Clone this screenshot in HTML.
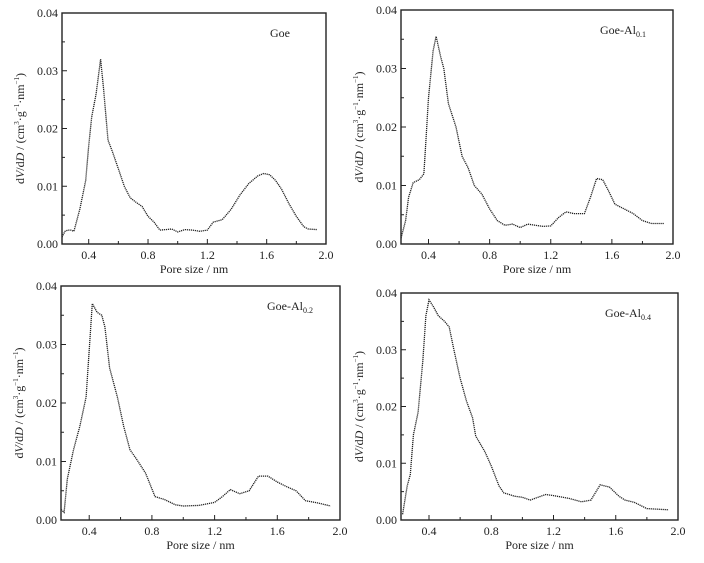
<!DOCTYPE html>
<html><head><meta charset="utf-8"><style>
body{margin:0;background:#fff;width:704px;height:558px;overflow:hidden}
svg text{font-family:"Liberation Serif","DejaVu Serif","Times New Roman",serif;fill:#222}
</style></head><body>
<svg id="fig" width="704" height="558" viewBox="0 0 704 558" font-family="'Liberation Serif', 'DejaVu Serif', serif"></svg>
<script>
const xTicks=[0.4,0.8,1.2,1.6,2.0];
const yTicks=[0,0.01,0.02,0.03,0.04];
const panelLabels=["Goe","Goe-Al","Goe-Al","Goe-Al"];
const panelSubs=["","0.1","0.2","0.4"];
const goeX=[0.22,0.24,0.26,0.28,0.30,0.34,0.38,0.40,0.42,0.45,0.48,0.50,0.53,0.56,0.60,0.64,0.68,0.72,0.76,0.80,0.84,0.88,0.92,0.96,1.0,1.05,1.1,1.15,1.2,1.24,1.3,1.36,1.42,1.48,1.54,1.58,1.62,1.66,1.70,1.75,1.80,1.85,1.88,1.94];
const goeY=[0.0012,0.0022,0.0024,0.0024,0.0022,0.006,0.011,0.017,0.022,0.026,0.032,0.027,0.018,0.016,0.013,0.010,0.008,0.0072,0.0065,0.0048,0.0038,0.0024,0.0025,0.0026,0.0021,0.0025,0.0024,0.0022,0.0024,0.0038,0.0042,0.006,0.0085,0.0105,0.0118,0.0122,0.0120,0.011,0.0095,0.007,0.0048,0.003,0.0026,0.0025];
const al1X=[0.22,0.25,0.27,0.30,0.34,0.37,0.40,0.43,0.45,0.48,0.50,0.53,0.58,0.62,0.66,0.70,0.75,0.80,0.85,0.90,0.95,1.0,1.05,1.1,1.15,1.2,1.25,1.3,1.35,1.42,1.46,1.5,1.54,1.58,1.62,1.68,1.74,1.8,1.86,1.94];
const al1Y=[0.001,0.004,0.008,0.0105,0.011,0.012,0.025,0.033,0.0355,0.032,0.030,0.024,0.020,0.015,0.013,0.010,0.0085,0.006,0.004,0.0032,0.0034,0.0028,0.0034,0.0032,0.003,0.0031,0.0045,0.0055,0.0052,0.0052,0.008,0.0112,0.011,0.009,0.0068,0.006,0.0052,0.004,0.0035,0.0035];
const al2X=[0.22,0.24,0.26,0.30,0.34,0.38,0.42,0.45,0.48,0.50,0.53,0.58,0.62,0.66,0.70,0.76,0.82,0.88,0.95,1.0,1.1,1.2,1.25,1.3,1.36,1.42,1.48,1.54,1.60,1.66,1.72,1.78,1.86,1.94];
const al2Y=[0.0018,0.0013,0.007,0.012,0.016,0.021,0.037,0.0355,0.035,0.033,0.026,0.021,0.016,0.012,0.0105,0.008,0.004,0.0035,0.0026,0.0024,0.0025,0.003,0.004,0.0052,0.0045,0.005,0.0075,0.0075,0.0065,0.0057,0.005,0.0033,0.0029,0.0024];
const al4X=[0.23,0.26,0.28,0.30,0.33,0.36,0.38,0.40,0.43,0.46,0.50,0.53,0.56,0.60,0.64,0.68,0.70,0.76,0.80,0.85,0.88,0.95,1.0,1.05,1.1,1.15,1.2,1.3,1.38,1.44,1.5,1.56,1.62,1.66,1.72,1.8,1.94];
const al4Y=[0.001,0.006,0.008,0.015,0.019,0.028,0.036,0.0388,0.0375,0.036,0.035,0.034,0.03,0.025,0.021,0.018,0.0148,0.012,0.0095,0.006,0.0048,0.0042,0.004,0.0035,0.004,0.0045,0.0043,0.0038,0.0032,0.0035,0.0062,0.0058,0.0042,0.0035,0.0031,0.002,0.0018];
const seriesX=[goeX,al1X,al2X,al4X];
const seriesY=[goeY,al1Y,al2Y,al4Y];
const boxes=[[62,13,326,244],[401,10,673,244],[61,286,340,520],[401,293,678,520]];
const NS="http://www.w3.org/2000/svg";
const svg=document.getElementById('fig');
const FF="'Liberation Serif', 'DejaVu Serif', serif";
function mk(tag,attrs,parent){const e=document.createElementNS(NS,tag);for(const k in attrs)e.setAttribute(k,attrs[k]);(parent||svg).appendChild(e);return e;}
const XMIN=0.22,XMAX=2.0,YMIN=0,YMAX=0.04;
boxes.forEach((b,i)=>{
  const [L,T,R,B]=b;
  const sx=v=>L+(v-XMIN)/(XMAX-XMIN)*(R-L);
  const sy=v=>B-(v-YMIN)/(YMAX-YMIN)*(B-T);
  const g=mk('g',{'font-family':FF});
  
  
  const fr=mk('rect',{x:L,y:T,width:R-L,height:B-T,fill:'none',stroke:'#222','stroke-width':1.4},g);
  
  
  for(let v=0.4;v<=2.001;v+=0.2){
    const major=Math.abs((v/0.4)-Math.round(v/0.4))<1e-6;
    mk('line',{x1:sx(v),x2:sx(v),y1:B,y2:B-(major?5:3),stroke:'#222','stroke-width':1},g);
  }
  for(let v=0;v<=0.0401;v+=0.005){
    const major=Math.abs((v/0.01)-Math.round(v/0.01))<1e-6;
    mk('line',{x1:L,x2:L+(major?5:3),y1:sy(v),y2:sy(v),stroke:'#222','stroke-width':1},g);
  }
  xTicks.forEach(v=>{const t=mk('text',{x:sx(v),y:B+15,'text-anchor':'middle','font-size':12,'font-family':FF},g);t.textContent=v.toFixed(1);
    
    });
  yTicks.forEach(v=>{const t=mk('text',{x:L-4,y:sy(v)+4,'text-anchor':'end','font-size':12,'font-family':FF},g);t.textContent=v.toFixed(2);
    
    });
  const xt=mk('text',{x:(L+R)/2,y:B+29,'text-anchor':'middle','font-size':12,'font-family':FF},g);
  xt.textContent='Pore size / nm';
  
  
  const yc=(T+B)/2, yx=L-38;
  const yt=mk('text',{x:yx,y:yc,'text-anchor':'middle','font-size':12,'font-family':FF,transform:`rotate(-90 ${yx} ${yc})`},g);
  yt.innerHTML='d<tspan font-style="italic">V</tspan>/d<tspan font-style="italic">D</tspan> / (cm<tspan font-size="7" dy="-5">3</tspan><tspan dy="5">·g</tspan><tspan font-size="7" dy="-5">−1</tspan><tspan dy="5">·nm</tspan><tspan font-size="7" dy="-5">−1</tspan><tspan dy="5">)</tspan>';
  
  
  const lt=mk('text',{x:R-73+(i===0?17:0),y:T+24,'font-size':12,'font-family':FF},g);
  lt.innerHTML=panelLabels[i]+(panelSubs[i]?'<tspan font-size="8" dy="3">'+panelSubs[i]+'</tspan>':'');
  
  
  const pts=seriesX[i].map((x,j)=>sx(x).toFixed(1)+','+sy(seriesY[i][j]).toFixed(1)).join(' ');
  const pl=mk('polyline',{points:pts,fill:'none',stroke:'#222','stroke-width':1.3,'stroke-dasharray':'1.2 0.8'},g);
  
  
});
</script>
</body></html>
